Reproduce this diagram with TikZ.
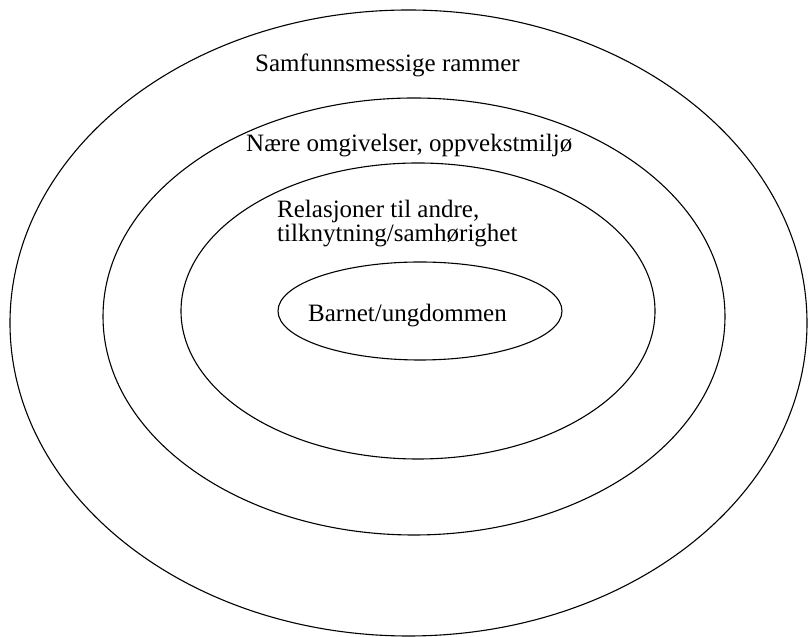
\documentclass[tikz,border=0pt]{standalone}
\usepackage{fontspec}
\setmainfont{Liberation Serif}
\usetikzlibrary{shapes.geometric}
\begin{document}
\begin{tikzpicture}[x=1pt,y=1pt,
  ring/.style={draw=black, line width=1.1pt, ellipse, inner sep=0pt},
  lbl/.style={anchor=base west, inner sep=0pt, font=\fontsize{25}{25}\selectfont}]
\useasboundingbox (0,0) rectangle (809,637);
\node[ring, minimum width=797pt, minimum height=626pt] (outer) at (408.5,314) {};
\node[ring, minimum width=622pt, minimum height=437pt] (second) at (414,320.5) {};
\node[ring, minimum width=474pt, minimum height=296pt] (third) at (418,326) {};
\node[ring, minimum width=284pt, minimum height=98pt] (inner) at (420,326) {};
\node[lbl] (t1) at (255,565) {Samfunnsmessige rammer};
\node[lbl] (t2) at (246,485) {Nære omgivelser, oppvekstmiljø};
\node[lbl] (t3) at (277,419) {Relasjoner til andre,};
\node[lbl] (t4) at (277,395) {tilknytning/samhørighet};
\node[lbl] (t5) at (308,315) {Barnet/ungdommen};
\end{tikzpicture}
\end{document}
